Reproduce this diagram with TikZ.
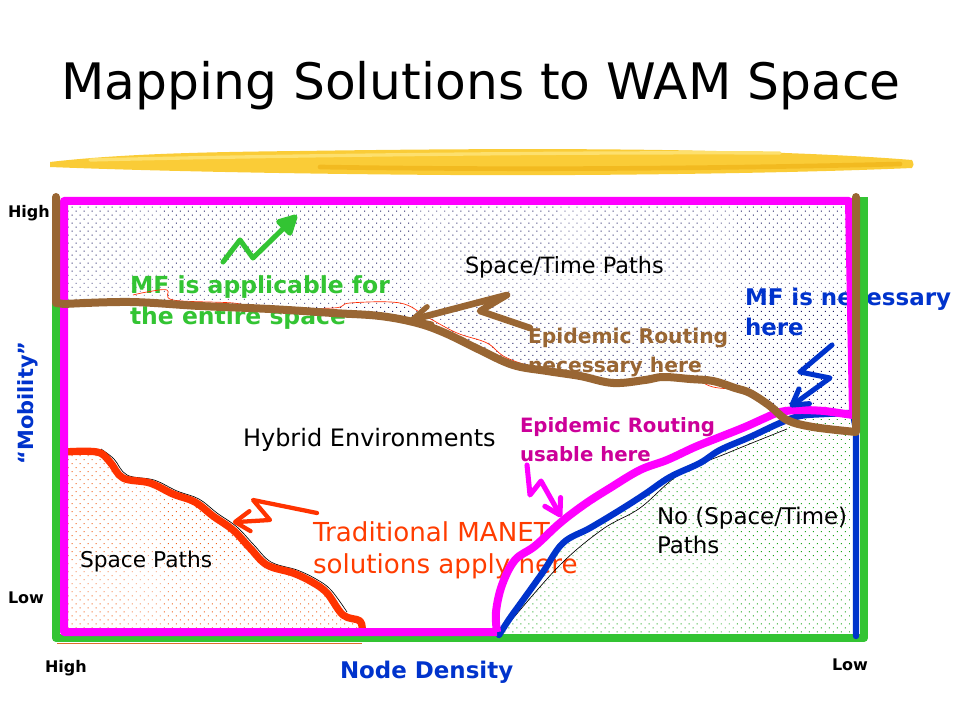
\documentclass[tikz,border=0pt]{standalone}
\usepackage{fontspec}
\setmainfont{DejaVu Sans}
\usepackage{tikz}
\usetikzlibrary{patterns.meta}

\begin{document}
\begin{tikzpicture}[x=0.75pt,y=0.75pt,yscale=-1,
  every node/.style={inner sep=0pt,outer sep=0pt},
  lbl/.style 2 args={anchor=west,align=left,font=\fontsize{#1}{#2}\selectfont},
  blbl/.style 2 args={anchor=west,align=left,font=\fontsize{#1}{#2}\selectfont\bfseries},
  dotfill/.style={pattern={Dots[distance=4.25pt,angle=45,radius=0.5pt]},pattern color={#1}},
  frame/.style={line width=6pt,line cap=butt,line join=round},
  curve/.style={line width=5.5pt,line cap=round,line join=round},
  hand/.style={line width=3.8pt,line cap=round,line join=round},
  thin/.style={line width=0.5pt}]
\useasboundingbox (0,0) rectangle (960,720);

%Shape: Brush stroke
\fill [fill={rgb, 255:red, 250; green, 204; blue, 55 }] (50,162) .. controls (120,154) and (200,152) .. (300,151) .. controls (500,148) and (750,147) .. (912,160) .. controls (914,164) and (914,166) .. (912,168) .. controls (800,173) and (600,176) .. (450,175) .. controls (300,174) and (150,171) .. (50,167) -- cycle ;
\draw [color={rgb, 255:red, 240; green, 180; blue, 25 }, line width=3.5pt, line cap=round, opacity=0.75] (320,167) .. controls (500,170) and (700,169) .. (900,164) ;
\draw [color={rgb, 255:red, 253; green, 224; blue, 110 }, line width=2.5pt, line cap=round] (90,160) .. controls (300,155) and (600,152) .. (780,153) ;

% Text Node
\node (title) [font=\fontsize{37.7}{40}\selectfont] at (481,86) {Mapping Solutions to WAM Space};

%Shape: Dotted region above the brown curve
\fill [dotfill={rgb, 255:red, 30; green, 30; blue, 100 }] (64,201) -- (849,201) -- (856,432) -- plot [smooth, tension=0.6] coordinates {(813,427) (787,420) (770,406) (750,393) (735,388) (713,381) (690,379) (663,377) (645,380) (613,383) (580,376) (547,371) (513,365) (480,350) (445,333) (417,323) (380,316) (333,313) (270,309) (200,306) (130,302) (64,304)} -- cycle ;
%Shape: Dotted region below the red curve
\fill [dotfill={rgb, 255:red, 240; green, 100; blue, 30 }] (64,632) -- plot [smooth, tension=0.6] coordinates {(64,452) (97,452) (110,462) (123,478) (150,483) (173,494) (195,502) (213,516) (233,530) (250,548) (267,565) (293,573) (312,582) (327,593) (343,615) (360,621) (362,632)} -- cycle ;
%Shape: Dotted region below the blue curve
\fill [dotfill={rgb, 255:red, 30; green, 165; blue, 30 }] (855,633) -- plot [smooth, tension=0.6] coordinates {(499,633) (510,618) (523,600) (543,572) (563,543) (590,528) (620,510) (645,494) (670,477) (700,463) (720,450) (750,437) (780,423) (800,416) (825,414) (853,413)} -- cycle ;

% Text Node
\node (st) [lbl={16.8}{20}] at (465,267) {Space/Time Paths};
% Text Node
\node (mfall) [blbl={17.6}{23.25}, color={rgb, 255:red, 51; green, 196; blue, 51 }] at (130,303) {MF is applicable for\\the entire space};
% Text Node
\node (epinec) [blbl={15.2}{21.75}, color={rgb, 255:red, 153; green, 102; blue, 51 }] at (528,352) {Epidemic Routing\\necessary here};
% Text Node
\node (mfnec) [blbl={17.2}{22.5}, color={rgb, 255:red, 0; green, 51; blue, 204 }] at (745,312) {MF is necessary\\here};
% Text Node
\node (hybrid) [lbl={18}{22}] at (243,440) {Hybrid Environments};
% Text Node
\node (epiuse) [blbl={14.8}{21.75}, color={rgb, 255:red, 204; green, 0; blue, 153 }] at (520,440) {Epidemic Routing\\usable here};
% Text Node
\node (manet) [lbl={19.6}{24}, color={rgb, 255:red, 255; green, 60; blue, 0 }] at (313,550) {Traditional MANET\\solutions apply here};
% Text Node
\node (nost) [lbl={17.2}{21.75}] at (657,530) {No (Space/Time)\\Paths};
% Text Node
\node (sp) [lbl={16.3}{20}] at (80,562) {Space Paths};

%Straight Lines: green frame
\draw [frame, color={rgb, 255:red, 51; green, 196; blue, 51 }] (56,300) -- (56,638) -- (864,638) -- (864,197) ;
%Straight Lines: thin edge under the space paths
\draw [thin, color={rgb, 255:red, 220; green, 110; blue, 40 }] (57,643) -- (362,643) ;

%Curve Lines: thin black traces
\draw [thin] plot [smooth, tension=0.6] coordinates {(101,449) (114,459) (127,475) (154,480) (177,491) (199,499) (217,513) (237,527) (254,545) (271,562) (297,570) (316,579) (331,590) (347,612)} ;
\draw [thin] plot [smooth, tension=0.6] coordinates {(510,622) (560,565) (603,529) (640,508) (680,474) (730,452) (787,429)} ;
%Curve Lines: thin red trace
\draw [thin, color={rgb, 255:red, 255; green, 40; blue, 0 }] plot [smooth, tension=0.6] coordinates {(133,295) (147,292) (167,290) (173,300) (233,303) (260,308) (333,308) (350,303) (400,303) (427,317) (457,333) (487,343) (507,358) (547,370) (613,380) (680,375) (713,387) (740,389)} ;

%Curve Lines: blue
\draw [curve, line width=4.8pt, color={rgb, 255:red, 0; green, 51; blue, 204 }] plot [smooth, tension=0.6] coordinates {(499,635) (510,618) (523,600) (543,572) (563,543) (590,528) (620,510) (645,494) (670,477) (700,463) (720,450) (750,437) (780,423) (800,416) (825,414) (853,413)} -- (856,430) -- (856,636) ;
%Curve Lines: red
\draw [curve, color={rgb, 255:red, 255; green, 51; blue, 0 }] plot [smooth, tension=0.6] coordinates {(64,452) (97,452) (110,462) (123,478) (150,483) (173,494) (195,502) (213,516) (233,530) (250,548) (267,565) (293,573) (312,582) (327,593) (343,615) (360,621) (362,632)} ;
%Curve Lines: magenta
\draw [frame, color={rgb, 255:red, 255; green, 0; blue, 255 }] (497,632) -- (64,632) -- (64,201) -- (849,201) -- (853,415) -- plot [smooth, tension=0.6] coordinates {(825,411) (800,410) (780,412) (765,418) (745,427) (720,437) (695,447) (667,460) (640,470) (610,488) (585,504) (560,523) (535,546) (515,560) (502,585) (496,612) (497,632)} ;
%Curve Lines: brown
\draw [curve, line width=6pt, color={rgb, 255:red, 153; green, 102; blue, 51 }] (56,197) -- (56,303) -- plot [smooth, tension=0.6] coordinates {(64,304) (130,302) (200,306) (270,309) (333,313) (380,316) (417,323) (445,333) (480,350) (513,365) (547,371) (580,376) (613,383) (645,380) (663,377) (690,379) (713,381) (735,388) (750,393) (770,406) (787,420) (813,427) (856,432)} -- (856,197) ;

%Straight Lines: green arrow
\draw [hand, color={rgb, 255:red, 51; green, 196; blue, 51 }] (223,262) -- (240,240) -- (253,258) -- (292,220) ;
\draw [shift={(295,217)}, rotate = 135.7] [hand, color={rgb, 255:red, 51; green, 196; blue, 51 }, fill={rgb, 255:red, 51; green, 196; blue, 51 }] (15,-8) -- (0,0) -- (15,8) -- cycle ;
%Straight Lines: brown arrow
\draw [hand, line width=5pt, color={rgb, 255:red, 153; green, 102; blue, 51 }] (530,328) -- (480,311) -- (507,295) -- (415,319) ;
\draw [shift={(412,320)}, rotate = 345.3] [hand, line width=4pt, color={rgb, 255:red, 153; green, 102; blue, 51 }] (18,-9) -- (0,0) -- (18,9) ;
%Straight Lines: red arrow
\draw [hand, line width=3.2pt, color={rgb, 255:red, 255; green, 51; blue, 0 }] (317,513) -- (253,500) -- (270,520) -- (237,522) ;
\draw [shift={(235,522)}, rotate = 356.7] [hand, line width=3.2pt, color={rgb, 255:red, 255; green, 51; blue, 0 }] (15,-10) -- (0,0) -- (15,10) ;
%Straight Lines: blue arrow
\draw [hand, color={rgb, 255:red, 0; green, 51; blue, 204 }] (832,345) -- (800,372) -- (830,378) -- (794,404) ;
\draw [shift={(792,405)}, rotate = 324.6] [hand, color={rgb, 255:red, 0; green, 51; blue, 204 }] (15,-9) -- (0,0) -- (15,9) ;
%Straight Lines: magenta arrow
\draw [hand, color={rgb, 255:red, 255; green, 0; blue, 255 }] (527,465) -- (530,495) -- (541,481) -- (559,513) ;
\draw [shift={(560,515)}, rotate = 240.8] [hand, color={rgb, 255:red, 255; green, 0; blue, 255 }] (15,-9) -- (0,0) -- (15,9) ;

% Text Node
\node (mhigh) [blbl={12}{14}] at (8,213) {High};
% Text Node
\node (mlow) [blbl={12}{14}] at (8,598) {Low};
% Text Node
\node (dhigh) [blbl={12}{14}] at (45,668) {High};
% Text Node
\node (dlow) [blbl={12}{14}] at (832,665) {Low};
% Text Node
\node (mob) [font=\fontsize{15.7}{18}\selectfont\bfseries, color={rgb, 255:red, 0; green, 51; blue, 204 }, rotate=90] at (28,403) {“Mobility”};
% Text Node
\node (dens) [blbl={17.2}{20}, color={rgb, 255:red, 0; green, 51; blue, 204 }] at (340,672) {Node Density};

\end{tikzpicture}
\end{document}
